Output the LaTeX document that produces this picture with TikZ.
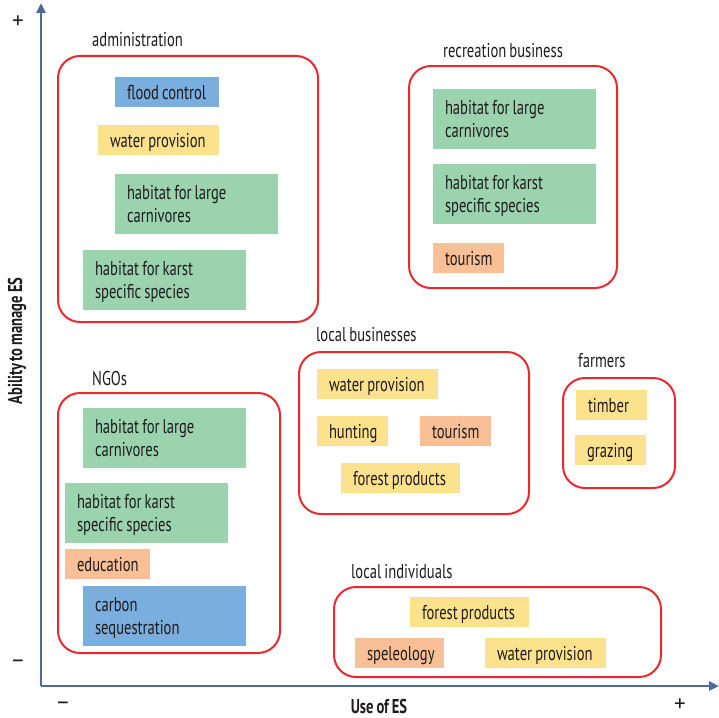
\documentclass[tikz,border=0pt]{standalone}
\usepackage{fontspec}
\setmainfont{PT Sans}[FakeStretch=0.73, WordSpace=0.8]
\newfontfamily\signfont{PT Sans}
\usetikzlibrary{arrows.meta}
\definecolor{cblue}{HTML}{7AAEDF}
\definecolor{cyellow}{HTML}{FDE28D}
\definecolor{cgreen}{HTML}{9BD3AE}
\definecolor{corange}{HTML}{F9BF96}
\definecolor{cred}{HTML}{E82A30}
\definecolor{caxis}{HTML}{4F6A96}
\definecolor{ctext}{HTML}{1E1B1C}
\newcommand\itemfont{\fontsize{20}{23}\selectfont}
\tikzset{
  item/.style={anchor=north west, inner xsep=12pt, inner ysep=0pt, outer sep=0pt,
    align=flush left, font=\itemfont, text=ctext,
    execute at begin node={\spaceskip=0pt\xspaceskip=0pt\rule{0pt}{18.5pt}},
    execute at end node={\rule[-4.5pt]{0pt}{0pt}}},
  grp/.style={anchor=north west, draw=cred, line width=2pt, rounded corners=22pt,
    inner sep=0pt, outer sep=0pt},
  grplabel/.style={anchor=base west, inner sep=0pt, font=\itemfont, text=ctext},
  axlabel/.style={inner sep=0pt, font=\itemfont\bfseries, text=ctext},
  sign/.style={inner sep=0pt, font=\signfont\fontsize{23}{23}\selectfont, text=ctext},
  axis/.style={draw=caxis, line width=2.5pt, -{Triangle[length=10pt,width=9pt]}}
}
\begin{document}
\begin{tikzpicture}[x=1pt,y=-1pt]
\useasboundingbox (0,0) rectangle (719,717);
% axes
\coordinate (O) at (41,686);
\coordinate (ytip) at (41,3);
\coordinate (xtip) at (719,686);
\draw[axis] (O) -- (ytip);
\draw[axis] (O) -- (xtip);
\node[sign] (yplus) at (18,22) {+};
\node[sign] (yminus) at (18,664) {–};
\node[sign] (xminus) at (63,706) {–};
\node[sign] (xplus) at (680,705) {+};
\node[axlabel, anchor=base] (xlab) at (379,713) {Use of ES};
\node[axlabel, rotate=90] (ylab) at (17,341) {Ability to manage ES};

% groups
\node[grp, minimum width=260pt, minimum height=266pt] (gadmin) at (58,56) {};
\node[grplabel] (ladmin) at (92,46) {administration};
\node[grp, minimum width=208pt, minimum height=222pt] (grec) at (409,66) {};
\node[grplabel] (lrec) at (443,57) {recreation business};
\node[grp, minimum width=230pt, minimum height=162pt] (glb) at (299,352) {};
\node[grplabel] (llb) at (316,341) {local businesses};
\node[grp, minimum width=112pt, minimum height=110pt] (gfarm) at (563,378) {};
\node[grplabel] (lfarm) at (578,367) {farmers};
\node[grp, minimum width=222pt, minimum height=260pt] (gngo) at (58,393) {};
\node[grplabel] (lngo) at (92,385) {NGOs};
\node[grp, minimum width=327pt, minimum height=90pt] (gli) at (334,587) {};
\node[grplabel] (lli) at (351,578) {local individuals};

% administration
\node[item, fill=cblue, text width=80pt, minimum height=30pt] (a1) at (115,77) {\mbox{flood control}};
\node[item, fill=cyellow, text width=97pt, minimum height=30pt] (a2) at (98,125) {\mbox{water provision}};
\node[item, fill=cgreen, text width=139pt, minimum height=60pt] (a3) at (115,174) {habitat for large\\carnivores};
\node[item, fill=cgreen, text width=139pt, minimum height=60pt] (a4) at (83,250) {habitat for karst\\specific species};
% recreation business
\node[item, fill=cgreen, text width=139pt, minimum height=60pt] (r1) at (433,89) {habitat for large\\carnivores};
\node[item, fill=cgreen, text width=139pt, minimum height=60pt] (r2) at (433,164) {habitat for karst\\specific species};
\node[item, fill=corange, text width=47pt, minimum height=30pt] (r3) at (433,243) {\mbox{tourism}};
% local businesses
\node[item, fill=cyellow, text width=97pt, minimum height=30pt] (b1) at (317,369) {\mbox{water provision}};
\node[item, fill=cyellow, text width=47pt, minimum height=30pt] (b2) at (317,416) {\mbox{hunting}};
\node[item, fill=corange, text width=47pt, minimum height=30pt] (b3) at (420,416) {\mbox{tourism}};
\node[item, fill=cyellow, text width=95pt, minimum height=30pt] (b4) at (341,463) {\mbox{forest products}};
% farmers
\node[item, fill=cyellow, text width=47pt, minimum height=30pt] (f1) at (576,390) {\mbox{timber}};
\node[item, fill=cyellow, text width=47pt, minimum height=30pt] (f2) at (575,435) {\mbox{grazing}};
% NGOs
\node[item, fill=cgreen, text width=139pt, minimum height=60pt] (n1) at (83,408) {habitat for large\\carnivores};
\node[item, fill=cgreen, text width=139pt, minimum height=60pt] (n2) at (65,483) {habitat for karst\\specific species};
\node[item, fill=corange, text width=61pt, minimum height=30pt] (n3) at (65,549) {\mbox{education}};
\node[item, fill=cblue, text width=139pt, minimum height=60pt] (n4) at (83,586) {carbon\\sequestration};
% local individuals
\node[item, fill=cyellow, text width=95pt, minimum height=30pt] (i1) at (410,597) {\mbox{forest products}};
\node[item, fill=corange, text width=65pt, minimum height=30pt] (i2) at (355,638) {\mbox{speleology}};
\node[item, fill=cyellow, text width=97pt, minimum height=30pt] (i3) at (485,638) {\mbox{water provision}};
\end{tikzpicture}
\end{document}
